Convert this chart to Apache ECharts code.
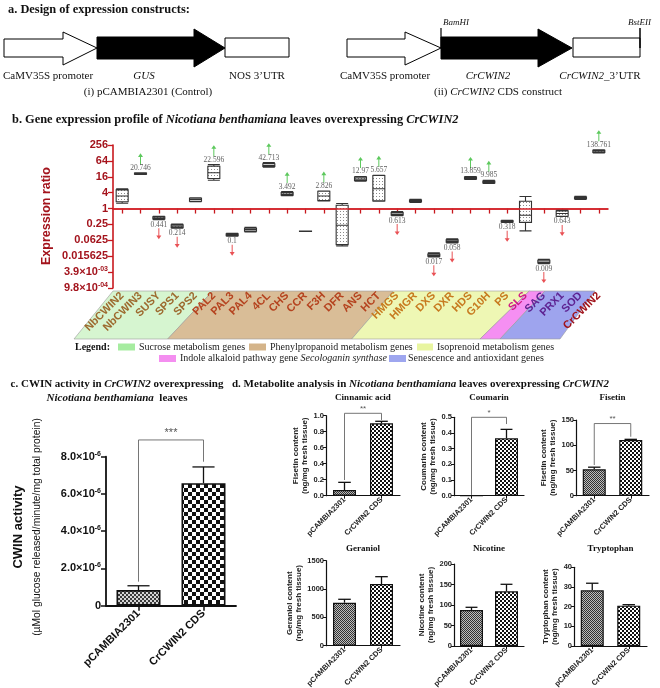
<!DOCTYPE html>
<html><head><meta charset="utf-8">
<script src="https://cdn.jsdelivr.net/npm/echarts@6/dist/echarts.min.js"></script>
<style>html,body{margin:0;padding:0;background:#fff}#c{width:660px;height:688px}</style>
</head><body><div id="c"></div>
<script>
// ---------------- DATA ----------------
const genes = ['NbCWIN2','NbCWIN3','SUSY','SPS1','SPS2','PAL2','PAL3','PAL4','4CL','CHS','CCR','F3H','DFR','ANS','HCT','HMGS','HMGR','DXS','DXR','HDS','G10H','PS','SLS','SAG','PRX1','SOD','CrCWIN2'];
const geneGroup = ['suc','suc','suc','suc','suc','phe','phe','phe','phe','phe','phe','phe','phe','phe','phe','iso','iso','iso','iso','iso','iso','iso','ind','sen','sen','sen','tgt'];
const ratioMin    = [1.59, 19.5, 0.38, 0.18, 1.8, 11.8, 0.09, 0.13, 37, 3.1, 0.137, 1.95, 0.038, 10.8, 1.9, 0.54, 1.7, 0.0148, 0.05, 12.6, 8.9, 0.30, 0.143, 0.0082, 0.50, 2.2, 129];
const ratioQ1     = [1.8, 20.0, 0.40, 0.19, 1.9, 13.7, 0.094, 0.14, 39, 3.2, 0.137, 2.0, 0.043, 11.5, 1.96, 0.56, 1.8, 0.0155, 0.053, 13.2, 9.3, 0.31, 0.30, 0.0086, 0.51, 2.35, 133];
const ratioMedian = [3.0, 20.7, 0.44, 0.214, 2.2, 22.6, 0.10, 0.16, 43, 3.5, 0.138, 3.0, 0.233, 13.0, 5.66, 0.61, 1.95, 0.017, 0.058, 13.9, 10.0, 0.318, 0.56, 0.0095, 0.65, 2.55, 140];
const ratioQ3     = [5.1, 22.0, 0.49, 0.24, 2.45, 40, 0.11, 0.18, 50, 4.0, 0.139, 4.5, 1.34, 15.5, 17.8, 0.70, 2.1, 0.019, 0.065, 15.5, 11.0, 0.34, 1.89, 0.011, 0.82, 2.75, 160];
const ratioMax    = [5.6, 22.8, 0.51, 0.26, 2.55, 46, 0.116, 0.195, 55, 4.4, 0.139, 4.6, 1.55, 16.5, 18.2, 0.77, 2.25, 0.021, 0.071, 16.5, 11.8, 0.36, 2.85, 0.012, 0.89, 2.9, 170];
const changeLabel = ['', '20.746', '0.441', '0.214', '', '22.596', '0.1', '', '42.713', '3.492', '', '2.826', '', '12.97', '5.657', '0.613', '', '0.017', '0.058', '13.859', '9.985', '0.318', '', '0.009', '0.643', '', '138.761'];
const changeDir   = ['', 'up', 'down', 'down', '', 'up', 'down', '', 'up', 'up', '', 'up', '', 'up', 'up', 'down', '', 'down', 'down', 'up', 'up', 'down', '', 'down', 'down', '', 'up'];
const ratioTickLabels = ['9.8×10{s|-04}', '3.9×10{s|-03}', '0.015625', '0.0625', '0.25', '1', '4', '16', '64', '256'];

const treatments = ['pCAMBIA2301', 'CrCWIN2 CDS'];
const cwinMean = [0.84e-6, 6.58e-6];
const cwinErrTop = [1.07e-6, 7.45e-6];
const cwinTickLabels = ['0', '2.0×10{s|-6}', '4.0×10{s|-6}', '6.0×10{s|-6}', '8.0×10{s|-6}'];
const cwinSig = '***';

const metabolites = ['Cinnamic acid', 'Coumarin', 'Fisetin', 'Geraniol', 'Nicotine', 'Tryptophan'];
const metaYName = ['Fisetin content\n(ng/mg fresh tissue)', 'Coumarin content\n(ng/mg fresh tissue)', 'Fisetin content\n(ng/mg fresh tissue)', 'Geraniol content\n(ng/mg fresh tissue)', 'Nicotine content\n(ng/mg fresh tissue)', 'Tryptophan content\n(ng/mg fresh tissue)'];
const controlMean   = [0.071, 0, 52.3, 759, 87.8, 28.3];
const controlErrTop = [0.167, 0, 56.5, 819, 94.4, 31.9];
const cdsMean       = [0.905, 0.366, 110.4, 1089, 133.4, 20.5];
const cdsErrTop     = [0.93, 0.423, 111.7, 1218, 150.5, 21.0];
const metaMax  = [1.0, 0.5, 150, 1500, 200, 40];
const metaStep = [0.2, 0.1, 50, 500, 50, 10];
const metaSig  = ['**', '*', '**', '', '', ''];
const sigLeftEnd  = [0.196, 0.005, 60.8];
const sigRightEnd = [0.947, 0.457, 116.8];
const sigLevel    = [1.03, 0.5, 143];

// ---------------- STYLE / LAYOUT ----------------
const SERIF = "'Liberation Serif','Times New Roman',serif";
const SANS = "'Liberation Sans',Arial,sans-serif";
const DARKRED = '#a3131c';
const AXRED = '#c8181e';
const groupColor = {suc:'#9d6a2f', phe:'#b5431f', iso:'#c77a1f', ind:'#cf1c86', sen:'#5e2392', tgt:'#a0141c'};
const metaGrid = [[326,415.7,74,80],[454,417.3,70,78.4],[576,420,73,75.7],[326,560.7,74,85],[454,564,70,82],[574,567.3,73,78.7]];

function checker(cell, c1, c2) {
  const cv = document.createElement('canvas'); cv.width = cv.height = cell * 2;
  const ctx = cv.getContext('2d');
  ctx.fillStyle = c2; ctx.fillRect(0, 0, cell * 2, cell * 2);
  ctx.fillStyle = c1; ctx.fillRect(0, 0, cell, cell); ctx.fillRect(cell, cell, cell, cell);
  return {image: cv, repeat: 'repeat'};
}
function dots() {
  const cv = document.createElement('canvas'); cv.width = cv.height = 3;
  const ctx = cv.getContext('2d');
  ctx.fillStyle = '#fff'; ctx.fillRect(0, 0, 3, 3);
  ctx.fillStyle = '#8a8a8a'; ctx.fillRect(1, 1, 1, 1);
  return {image: cv, repeat: 'repeat'};
}
const dotPat = dots();
const cFine = checker(2, '#3a3a3a', '#d6d6d6');
const cCoarse = checker(4, '#111', '#fff');
const dFine = checker(1, '#333', '#bdbdbd');
const dCoarse = checker(2, '#111', '#fff');

// ---------------- GRAPHICS (diagram, titles, legend) ----------------
function T(x, y, text, rich, extra) {
  return {type: 'text', x: x, y: y, z: 10, style: Object.assign({text: text, rich: rich, align: 'left', verticalAlign: 'middle', fill: '#111', fontFamily: SERIF, fontSize: 11}, extra || {})};
}
const R = {
  b: {fontFamily: SERIF, fontWeight: 'bold', fontSize: 12.4, fill: '#111'},
  bi: {fontFamily: SERIF, fontWeight: 'bold', fontStyle: 'italic', fontSize: 12.4, fill: '#111'},
  n: {fontFamily: SERIF, fontSize: 11, fill: '#111'},
  i: {fontFamily: SERIF, fontStyle: 'italic', fontSize: 11, fill: '#111'},
  b11: {fontFamily: SERIF, fontWeight: 'bold', fontSize: 11, fill: '#111'},
  bi11: {fontFamily: SERIF, fontWeight: 'bold', fontStyle: 'italic', fontSize: 11, fill: '#111'},
  l: {fontFamily: SERIF, fontSize: 10, fill: '#222'},
  li: {fontFamily: SERIF, fontStyle: 'italic', fontSize: 10, fill: '#222'}
};
function poly(points, fill, stroke, lw, z) {
  return {type: 'polygon', z: z === undefined ? 5 : z, shape: {points: points}, style: {fill: fill, stroke: stroke, lineWidth: lw}};
}
function line(x1, y1, x2, y2, stroke, lw) {
  return {type: 'line', z: 6, shape: {x1: x1, y1: y1, x2: x2, y2: y2}, style: {stroke: stroke, lineWidth: lw}};
}
function whiteArrow(x0, xb, xt) {
  return poly([[x0,39],[xb,39],[xb,32],[xt,48],[xb,65],[xb,57],[x0,57]], '#fff', '#000', 1);
}
function blackArrow(x0, xb, xt) {
  return poly([[x0,37],[xb,37],[xb,29],[xt,48],[xb,67],[xb,59],[x0,59]], '#000', '#000', 1);
}
const graphics = [
  T(8, 10, '{b|a. Design of expression constructs:}', R),
  whiteArrow(4, 63, 97), blackArrow(97, 194, 225),
  {type: 'rect', z: 5, shape: {x: 225, y: 38, width: 64, height: 19}, style: {fill: '#fff', stroke: '#000', lineWidth: 1}},
  T(3, 76, '{n|CaMV35S promoter}', R),
  T(144, 76, '{i|GUS}', R, {align: 'center'}),
  T(257, 76, '{n|NOS 3’UTR}', R, {align: 'center'}),
  T(148, 92, '{n|(i) pCAMBIA2301 (Control)}', R, {align: 'center'}),
  whiteArrow(347, 405, 441), blackArrow(441, 538, 572),
  {type: 'rect', z: 5, shape: {x: 573, y: 38, width: 67, height: 19}, style: {fill: '#fff', stroke: '#000', lineWidth: 1}},
  line(441, 28, 441, 48, '#000', 1.2), line(640, 28, 640, 48, '#000', 1.5),
  T(443, 23, '{i|BamHI}', {i: {fontFamily: SERIF, fontStyle: 'italic', fontSize: 9, fill: '#111'}}),
  T(628, 23, '{i|BstEII}', {i: {fontFamily: SERIF, fontStyle: 'italic', fontSize: 9, fill: '#111'}}),
  T(385, 76, '{n|CaMV35S promoter}', R, {align: 'center'}),
  T(488, 76, '{i|CrCWIN2}', R, {align: 'center'}),
  T(600, 76, '{i|CrCWIN2}{n|_3’UTR}', R, {align: 'center'}),
  T(498, 92, '{n|(ii) }{i|CrCWIN2}{n| CDS construct}', R, {align: 'center'}),
  T(12, 120, '{b|b. Gene expression profile of }{bi|Nicotiana benthamiana}{b| leaves overexpressing }{bi|CrCWIN2}', R),
  {type: 'text', x: 47, y: 216, rotation: Math.PI / 2, z: 10, style: {text: 'Expression ratio', align: 'center', verticalAlign: 'middle', fill: DARKRED, fontFamily: SANS, fontWeight: 'bold', fontSize: 12.5}},
  // category bands
  poly([[113,291],[212.7,291],[167.7,339],[74,339]], '#d6f5d0', '#9a9a9a', 0.6, -1),
  poly([[212.7,291],[393.3,291],[351.7,339],[167.7,339]], '#d9bd97', '#9a9a9a', 0.6, -1),
  poly([[393.3,291],[529.3,291],[480,339],[351.7,339]], '#eef7b4', '#9a9a9a', 0.6, -1),
  poly([[529.3,291],[545,291],[500,339],[480,339]], '#f58ff2', '#9a9a9a', 0.6, -1),
  poly([[545,291],[595,291],[560,339],[500,339]], '#9ea4ee', '#9a9a9a', 0.6, -1),
  // legend
  T(75, 347, '{lb|Legend:}', {lb: {fontFamily: SERIF, fontWeight: 'bold', fontSize: 10, fill: '#111'}}),
  {type: 'rect', z: 5, shape: {x: 118, y: 343.5, width: 17, height: 7}, style: {fill: '#a6eca0'}},
  T(139, 347, '{l|Sucrose metabolism genes}', R),
  {type: 'rect', z: 5, shape: {x: 249, y: 343.5, width: 17, height: 7}, style: {fill: '#d4b48a'}},
  T(270, 347, '{l|Phenylpropanoid metabolism genes}', R),
  {type: 'rect', z: 5, shape: {x: 417, y: 343.5, width: 16, height: 7}, style: {fill: '#e8f5a0'}},
  T(437, 347, '{l|Isoprenoid metabolism genes}', R),
  {type: 'rect', z: 5, shape: {x: 159, y: 355, width: 17, height: 7}, style: {fill: '#f48ef0'}},
  T(180, 358.5, '{l|Indole alkaloid pathway gene }{li|Secologanin synthase}', R),
  {type: 'rect', z: 5, shape: {x: 389, y: 355, width: 17, height: 7}, style: {fill: '#9ea6ef'}},
  T(408, 358.5, '{l|Senescence and antioxidant genes}', R),
  // panel c
  T(117, 384, '{b11|c. CWIN activity in }{bi11|CrCWIN2}{b11| overexpressing}', R, {align: 'center'}),
  T(117, 398, '{bi11|Nicotiana benthamiana}{b11|  leaves}', R, {align: 'center'}),
  {type: 'text', x: 18, y: 527, rotation: Math.PI / 2, z: 10, style: {text: 'CWIN activity', align: 'center', verticalAlign: 'middle', fill: '#111', fontFamily: SANS, fontWeight: 'bold', fontSize: 13}},
  {type: 'text', x: 37, y: 527, rotation: Math.PI / 2, z: 10, style: {text: '(µMol glucose released/minute/mg total protein)', align: 'center', verticalAlign: 'middle', fill: '#111', fontFamily: SANS, fontSize: 10.3}},
  // panel d
  T(232, 384, '{b11|d. Metabolite analysis in }{bi11|Nicotiana benthamiana}{b11| leaves overexpressing }{bi11|CrCWIN2}', R)
];
metabolites.forEach(function (m, k) {
  const g = metaGrid[k];
  graphics.push(T(g[0] + g[2] / 2, k < 3 ? 398 : 549, '{t|' + m + '}', {t: {fontFamily: SERIF, fontWeight: 'bold', fontSize: 9, fill: '#111'}}, {align: 'center'}));
});

// ---------------- AXES / SERIES ----------------
const grids = [
  {left: 113, top: 145, width: 495, height: 143},
  {left: 106, top: 456.7, width: 130, height: 149}
];
metaGrid.forEach(function (g) { grids.push({left: g[0], top: g[1], width: g[2], height: g[3]}); });
grids.forEach(function (g) { g.containLabel = false; g.outerBoundsMode = 'none'; });

const L2 = function (v) { return Math.log2(v); };
const xAxes = [
  {type: 'category', gridIndex: 0, boundaryGap: true,
   data: genes.map(function (g, i) { return {value: g, textStyle: {color: groupColor[geneGroup[i]]}}; }),
   axisLine: {lineStyle: {color: AXRED, width: 1.6}},
   axisTick: {show: true, alignWithLabel: true, length: 5, lineStyle: {color: AXRED, width: 1.3}},
   axisLabel: {interval: 0, rotate: 45, fontSize: 11, fontWeight: 'bold', fontFamily: SANS, margin: 6},
   splitLine: {show: false}},
  {type: 'category', gridIndex: 1, boundaryGap: true, data: treatments,
   axisLine: {lineStyle: {color: '#111', width: 1.8}},
   axisTick: {show: true, alignWithLabel: true, length: 5, lineStyle: {color: '#111', width: 1.5}},
   axisLabel: {interval: 0, rotate: 45, fontSize: 11, fontWeight: 'bold', fontFamily: SANS, color: '#111', margin: 6},
   splitLine: {show: false}}
];
const yAxes = [
  {type: 'value', gridIndex: 0, min: -10, max: 8, interval: 2,
   axisLine: {show: true, lineStyle: {color: AXRED, width: 1.6}},
   axisTick: {show: true, length: 5, lineStyle: {color: AXRED, width: 1.3}},
   splitLine: {show: false},
   axisLabel: {formatter: function (v) { return ratioTickLabels[Math.round((v + 10) / 2)]; },
     color: DARKRED, fontSize: 11, fontWeight: 'bold', fontFamily: SANS, margin: 5,
     rich: {s: {fontSize: 7, fontWeight: 'bold', fontFamily: SANS, color: DARKRED, padding: [0, 0, 6, 0]}}}},
  {type: 'value', gridIndex: 1, min: 0, max: 8e-6, interval: 2e-6,
   axisLine: {show: true, lineStyle: {color: '#111', width: 1.8}},
   axisTick: {show: true, length: 5, lineStyle: {color: '#111', width: 1.5}},
   splitLine: {show: false},
   axisLabel: {formatter: function (v) { return cwinTickLabels[Math.round(v / 2e-6)]; },
     color: '#111', fontSize: 11, fontWeight: 'bold', fontFamily: SANS, margin: 5,
     rich: {s: {fontSize: 7, fontWeight: 'bold', fontFamily: SANS, color: '#111', padding: [0, 0, 6, 0]}}}}
];
metabolites.forEach(function (m, k) {
  xAxes.push({type: 'category', gridIndex: k + 2, boundaryGap: true, data: treatments,
    axisLine: {lineStyle: {color: '#111', width: 1.2}},
    axisTick: {show: true, alignWithLabel: true, length: 3, lineStyle: {color: '#111', width: 1}},
    axisLabel: {interval: 0, rotate: 45, fontSize: 7.5, fontWeight: 'bold', fontFamily: SANS, color: '#222', margin: 3},
    splitLine: {show: false}});
  yAxes.push({type: 'value', gridIndex: k + 2, min: 0, max: metaMax[k], interval: metaStep[k],
    name: metaYName[k], nameLocation: 'middle', nameRotate: 90, nameGap: 14,
    nameTextStyle: {fontSize: 8, fontWeight: 'bold', fontFamily: SANS, color: '#222', lineHeight: 9},
    axisLine: {show: true, lineStyle: {color: '#111', width: 1.2}},
    axisTick: {show: true, length: 3, lineStyle: {color: '#111', width: 1}},
    splitLine: {show: false},
    axisLabel: {fontSize: 7.5, fontWeight: 'bold', fontFamily: SANS, color: '#222', margin: 2,
      formatter: function (v) { return metaStep[k] < 1 ? v.toFixed(1) : String(Math.round(v)); }}});
});

function errRender(params, api) {
  const base = api.coord([api.value(0), api.value(1)]);
  const top = api.coord([api.value(0), api.value(2)]);
  const cap = api.size([1, 0])[0] * 0.17;
  if (api.value(2) <= api.value(1)) return {type: 'group', children: []};
  return {type: 'group', children: [
    {type: 'line', shape: {x1: base[0], y1: base[1], x2: top[0], y2: top[1]}, style: {stroke: '#111', lineWidth: 1.3}},
    {type: 'line', shape: {x1: top[0] - cap, y1: top[1], x2: top[0] + cap, y2: top[1]}, style: {stroke: '#111', lineWidth: 1.3}}
  ]};
}
function bracketRender(sig, fs) {
  return function (params, api) {
    const l = api.coord([0, api.value(1)]);
    const r = api.coord([1, api.value(2)]);
    const t = api.coord([0, api.value(3)])[1];
    return {type: 'group', children: [
      {type: 'polyline', shape: {points: [[l[0], l[1]], [l[0], t], [r[0], t], [r[0], r[1]]]}, style: {stroke: '#666', lineWidth: 0.9, fill: null}},
      {type: 'text', x: (l[0] + r[0]) / 2, y: t - 1, style: {text: sig, align: 'center', verticalAlign: 'bottom', fill: '#555', fontFamily: SANS, fontSize: fs}}
    ]};
  };
}

const arrowUp = 'path://M3,0 L6,4 L3.6,4 L3.6,12 L2.4,12 L2.4,4 L0,4 Z';
const arrowDown = 'path://M2.4,0 L3.6,0 L3.6,8 L6,8 L3,12 L0,8 L2.4,8 Z';
const upIdx = [], downIdx = [];
changeDir.forEach(function (d, i) { if (d === 'up') upIdx.push(i); else if (d === 'down') downIdx.push(i); });

const series = [
  {type: 'boxplot', xAxisIndex: 0, yAxisIndex: 0, boxWidth: [12, 12],
   data: genes.map(function (g, i) { return [ratioMin[i], ratioQ1[i], ratioMedian[i], ratioQ3[i], ratioMax[i]].map(L2); }),
   itemStyle: {color: dotPat, borderColor: '#333', borderWidth: 1.1},
   markLine: {silent: true, symbol: 'none', label: {show: false}, lineStyle: {color: '#d4252b', width: 1.5, type: 'solid'}, data: [{yAxis: 0}]},
   z: 3},
  {type: 'scatter', xAxisIndex: 0, yAxisIndex: 0, symbolSize: 0, clip: false,
   data: upIdx.map(function (i) { return [i, L2(ratioMax[i])]; }),
   label: {show: true, position: 'top', distance: 1, formatter: function (p) { return changeLabel[p.value[0]]; }, fontSize: 7.5, fontFamily: SERIF, color: '#333'}},
  {type: 'scatter', xAxisIndex: 0, yAxisIndex: 0, symbol: arrowUp, symbolSize: [5, 11], symbolOffset: [0, -14], clip: false,
   itemStyle: {color: '#35bb35'}, data: upIdx.map(function (i) { return [i, L2(ratioMax[i])]; })},
  {type: 'scatter', xAxisIndex: 0, yAxisIndex: 0, symbolSize: 0, clip: false,
   data: downIdx.map(function (i) { return [i, L2(ratioMin[i])]; }),
   label: {show: true, position: 'bottom', distance: 1, formatter: function (p) { return changeLabel[p.value[0]]; }, fontSize: 7.5, fontFamily: SERIF, color: '#333'}},
  {type: 'scatter', xAxisIndex: 0, yAxisIndex: 0, symbol: arrowDown, symbolSize: [5, 11], symbolOffset: [0, 14], clip: false,
   itemStyle: {color: '#e3262b'}, data: downIdx.map(function (i) { return [i, L2(ratioMin[i])]; })},
  // panel c
  {type: 'bar', xAxisIndex: 1, yAxisIndex: 1, barWidth: 44,
   data: [{value: cwinMean[0], itemStyle: {color: cFine}}, {value: cwinMean[1], itemStyle: {color: cCoarse}}],
   itemStyle: {borderColor: '#111', borderWidth: 1.6}},
  {type: 'custom', xAxisIndex: 1, yAxisIndex: 1, clip: false, renderItem: errRender, encode: {x: 0, y: 1},
   data: [[0, cwinMean[0], cwinErrTop[0]], [1, cwinMean[1], cwinErrTop[1]]]},
  {type: 'custom', xAxisIndex: 1, yAxisIndex: 1, clip: false, renderItem: bracketRender(cwinSig, 11), encode: {x: 0, y: 1},
   data: [[0, 1.29e-6, 7.73e-6, 8.9e-6]]}
];
metabolites.forEach(function (m, k) {
  const ai = k + 2;
  series.push({type: 'bar', xAxisIndex: ai, yAxisIndex: ai, barWidth: 23,
    data: [{value: controlMean[k], itemStyle: {color: dFine}}, {value: cdsMean[k], itemStyle: {color: dCoarse}}],
    itemStyle: {borderColor: '#111', borderWidth: 1.2}});
  series.push({type: 'custom', xAxisIndex: ai, yAxisIndex: ai, clip: false, renderItem: errRender, encode: {x: 0, y: 1},
    data: [[0, controlMean[k], controlErrTop[k]], [1, cdsMean[k], cdsErrTop[k]]]});
  if (metaSig[k]) {
    series.push({type: 'custom', xAxisIndex: ai, yAxisIndex: ai, clip: false, renderItem: bracketRender(metaSig[k], 8), encode: {x: 0, y: 1},
      data: [[0, sigLeftEnd[k], sigRightEnd[k], sigLevel[k]]]});
  }
});

const chart = echarts.init(document.getElementById('c'), null, {renderer: 'canvas', width: 660, height: 688});
chart.setOption({
  animation: false,
  backgroundColor: '#fff',
  grid: grids, xAxis: xAxes, yAxis: yAxes, series: series,
  graphic: {elements: graphics}
});
</script></body></html>
